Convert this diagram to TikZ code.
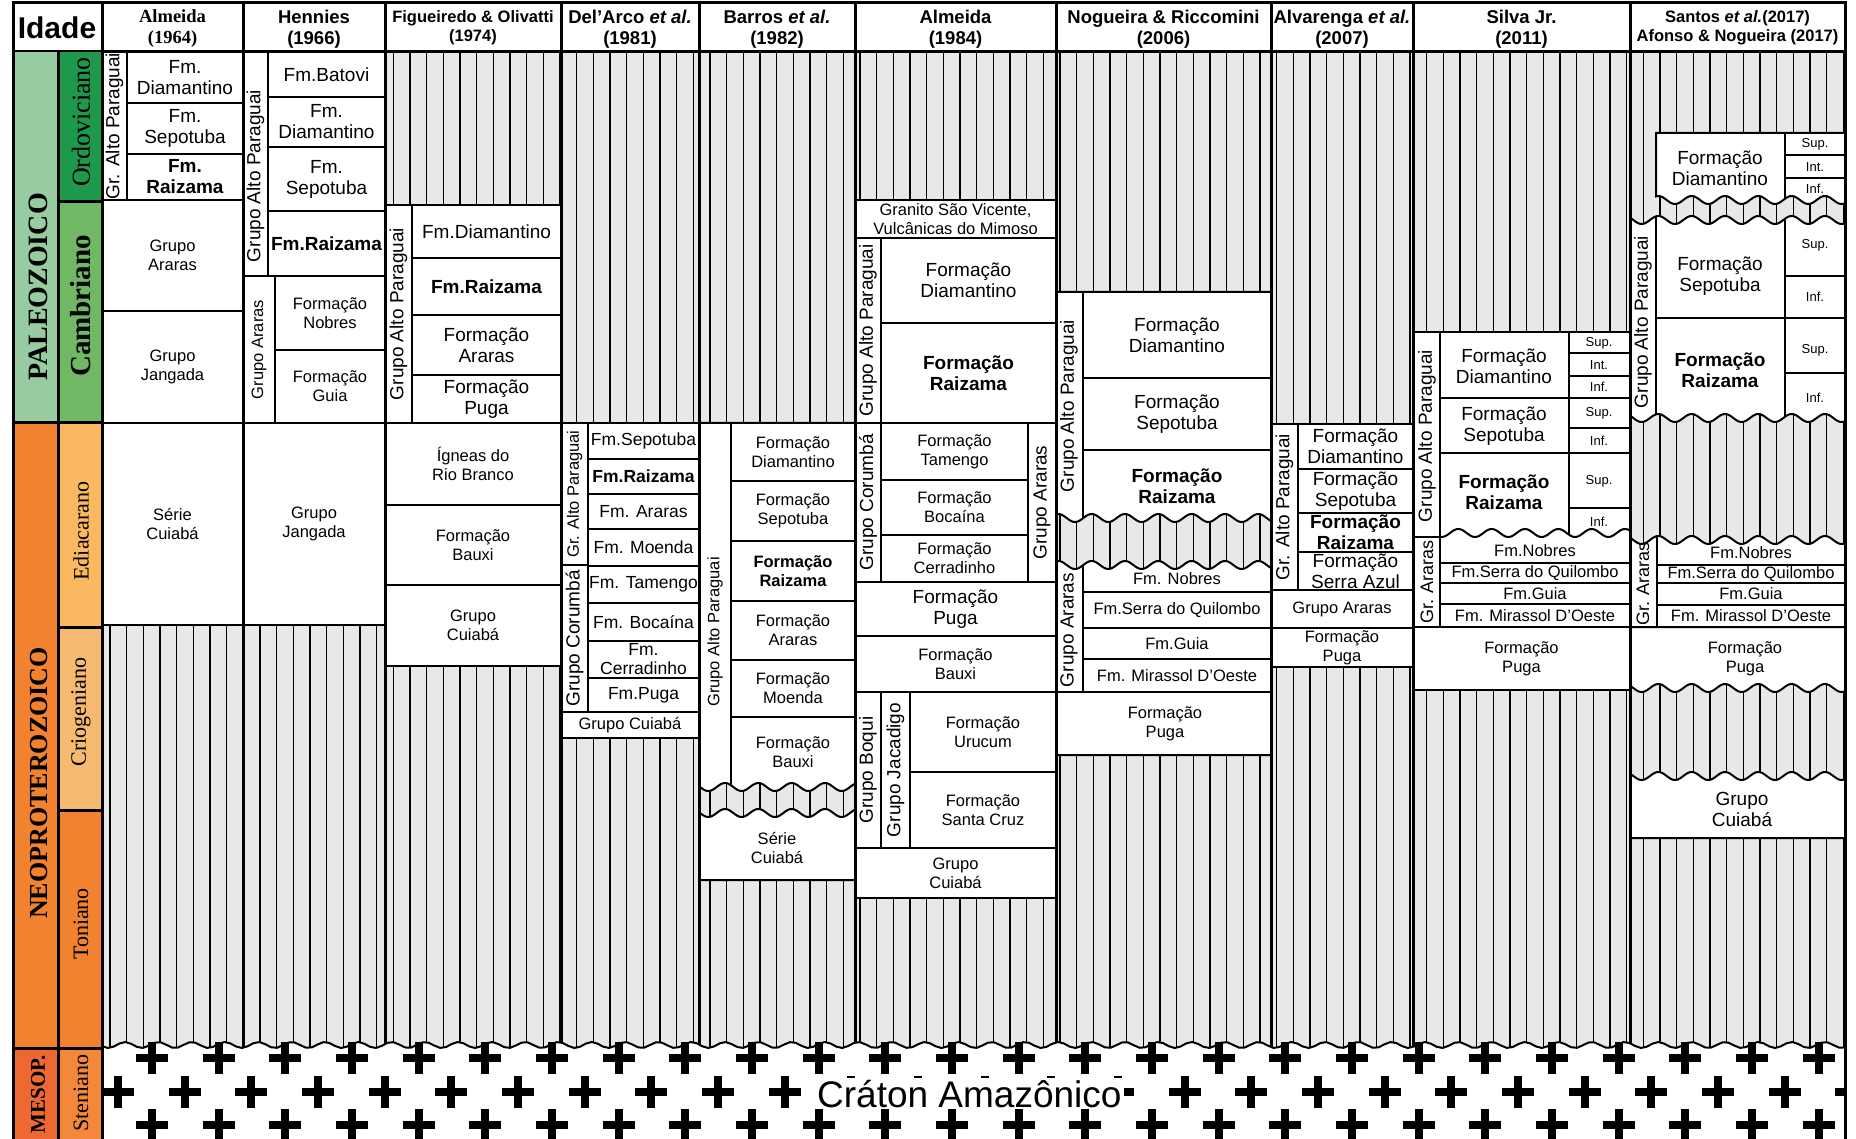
\documentclass[tikz,border=0pt]{standalone}
\usepackage{fontspec}
\setmainfont{Liberation Sans}
\newfontfamily\tms{Liberation Serif}
\definecolor{paleo}{RGB}{150,204,160}
\definecolor{ordo}{RGB}{30,152,74}
\definecolor{camb}{RGB}{112,184,100}
\definecolor{neop}{RGB}{241,130,47}
\definecolor{edia}{RGB}{250,184,96}
\definecolor{crio}{RGB}{245,186,112}
\definecolor{meso}{RGB}{238,104,50}
\definecolor{sten}{RGB}{243,136,58}
\definecolor{hatchbg}{RGB}{232,232,232}
\tikzset{box/.style={draw,line width=2pt,fill=white},ln/.style={line width=2pt},sep/.style={line width=3pt},
 lbl/.style={align=center,inner sep=0pt,font=\fontsize{16.5}{19}\selectfont},
 fB/.style={font=\fontsize{16.5}{19}\selectfont},fBb/.style={font=\fontsize{16.5}{19}\selectfont\bfseries},
 fA/.style={font=\fontsize{19}{21}\selectfont},fAb/.style={font=\fontsize{19}{21}\selectfont\bfseries},
 fM/.style={font=\fontsize{17.5}{19}\selectfont},fMb/.style={font=\fontsize{17.5}{19}\selectfont\bfseries},
 fS/.style={font=\fontsize{13}{15}\selectfont},
 hd/.style={align=center,inner sep=0pt,font=\fontsize{18.5}{21}\selectfont\bfseries},
 hds/.style={hd,font=\fontsize{16.5}{19}\selectfont\bfseries},
 eon/.style={rotate=90,inner sep=0pt,font=\tms\bfseries},
 per/.style={rotate=90,inner sep=0pt,font=\tms\fontsize{22}{24}\selectfont}}
\newcommand{\wavey}[3]{#2+#3*sin(10.8*mod(#1,33.333))}
\newcommand{\unitbox}[7][]{\draw[box] (#2,#3) rectangle (#4,#5); \node[lbl,#1] (#6) at ({(#2+#4)/2},{(#3+#5)/2}) {#7};}
\newcommand{\unitrot}[7][fA]{\draw[box] (#2,#3) rectangle (#4,#5); \node[lbl,#1,rotate=90] (#6) at ({(#2+#4)/2},{(#3+#5)/2}) {#7};}
\newcommand{\unitlab}[5][]{\node[lbl,#1] (#4) at (#2,#3) {#5};}
\newcommand{\waveregion}[6]{\filldraw[box] plot[domain=#1:#3,samples=300] (\x,{\wavey{\x}{#2}{#5}}) -- plot[domain=#3:#1,samples=300] (\x,{\wavey{\x}{#4}{#6}}) -- cycle;}
\newcommand{\basecross}[2]{\draw[line width=8pt] ({#1-16},#2) -- ({#1+16},#2) ({#1},{#2-16}) -- ({#1},{#2+16});}
\begin{document}
\begin{tikzpicture}[x=1pt,y=-1pt]
\clip (0,0) rectangle (1856,1139);
\fill[white] (0,0) rectangle (1856,1139);
\fill[hatchbg] (102,52) rectangle (1845,1060);
\foreach \i in {0,...,104} {\draw[line width=1.2pt] ({110+16.667*\i},52) -- ({110+16.667*\i},1060);}
% Almeida (1964)
\unitrot{102}{52}{127}{200}{a64gap}{Gr. Alto Paraguai}
\unitbox[fA]{127}{52}{243}{103}{a64dia}{Fm.\\Diamantino}
\unitbox[fA]{127}{103}{243}{154}{a64sep}{Fm.\\Sepotuba}
\unitbox[fAb]{127}{154}{243}{200}{a64rai}{Fm.\\Raizama}
\unitbox{102}{200}{243}{311}{a64ara}{Grupo\\Araras}
\unitbox{102}{311}{243}{423}{a64jan}{Grupo\\Jangada}
\unitbox{102}{423}{243}{625}{a64cui}{Série\\Cuiabá}
% Hennies (1966)
\draw[box] (243,52) rectangle (268,276);
\unitlab[fA,rotate=90]{255.5}{176}{h66gap}{Grupo Alto Paraguai}
\unitbox[fA]{268}{52}{385}{97}{h66bat}{Fm.Batovi}
\unitbox[fA]{268}{97}{385}{147}{h66dia}{Fm.\\Diamantino}
\unitbox[fA]{268}{147}{385}{211}{h66sep}{Fm.\\Sepotuba}
\unitbox[fAb]{268}{211}{385}{276}{h66rai}{Fm.Raizama}
\unitrot[fB]{243}{276}{275}{423}{h66gar}{Grupo Araras}
\unitbox{275}{276}{385}{350}{h66nob}{Formação\\Nobres}
\unitbox{275}{350}{385}{423}{h66gui}{Formação\\Guia}
\unitbox{243}{423}{385}{625}{h66jan}{Grupo\\Jangada}
% Figueiredo & Olivatti (1974)
\unitrot{385}{205}{412}{423}{fo74gap}{Grupo Alto Paraguai}
\unitbox[fA]{412}{205}{561}{258}{fo74dia}{Fm.Diamantino}
\unitbox[fAb]{412}{258}{561}{315}{fo74rai}{Fm.Raizama}
\unitbox[fA]{412}{315}{561}{375}{fo74ara}{Formação\\Araras}
\unitbox[fA]{412}{375}{561}{423}{fo74pug}{Formação\\Puga}
\unitbox{385}{423}{561}{505}{fo74ign}{Ígneas do\\Rio Branco}
\unitbox{385}{505}{561}{585}{fo74bau}{Formação\\Bauxi}
\unitbox{385}{585}{561}{666}{fo74cui}{Grupo\\Cuiabá}
% Del'Arco et al. (1981)
\unitrot[fB]{561}{423}{588}{565}{da81gap}{Gr. Alto Paraguai}
\unitrot{561}{565}{588}{712}{da81gco}{Grupo Corumbá}
\unitbox[fM]{588}{423}{699}{459}{da81sep}{Fm.Sepotuba}
\unitbox[fMb]{588}{459}{699}{494}{da81rai}{Fm.Raizama}
\unitbox[fM]{588}{494}{699}{529}{da81ara}{Fm. Araras}
\unitbox[fM]{588}{529}{699}{566}{da81moe}{Fm. Moenda}
\unitbox[fM]{588}{566}{699}{603}{da81tam}{Fm. Tamengo}
\unitbox[fM]{588}{603}{699}{641}{da81boc}{Fm. Bocaína}
\unitbox[fM]{588}{641}{699}{678}{da81cer}{Fm.\\Cerradinho}
\unitbox[fM]{588}{678}{699}{712}{da81pug}{Fm.Puga}
\unitbox{561}{712}{699}{738}{da81cui}{Grupo Cuiabá}
% Barros et al. (1982)
\waveregion{699}{423}{855}{787}{0}{4}
\draw[ln] (731,423) -- (731,{\wavey{731}{787}{4}}) (731,481) -- (855,481) (731,541) -- (855,541) (731,601) -- (855,601) (731,660) -- (855,660) (731,717) -- (855,717);
\unitlab[rotate=90]{715}{632}{b82gap}{Grupo Alto Paraguai}
\unitlab{793}{452}{b82dia}{Formação\\Diamantino} \unitlab{793}{511}{b82sep}{Formação\\Sepotuba}
\unitlab[fBb]{793}{571}{b82rai}{Formação\\Raizama} \unitlab{793}{630}{b82ara}{Formação\\Araras}
\unitlab{793}{688}{b82moe}{Formação\\Moenda} \unitlab{793}{752}{b82bau}{Formação\\Bauxi}
\waveregion{699}{813}{855}{880}{4}{0}
\unitlab{777}{848}{b82cui}{Série\\Cuiabá}
% Almeida (1984)
\unitbox{855}{200}{1056}{238}{a84gra}{Granito São Vicente,\\Vulcânicas do Mimoso}
\unitrot{855}{238}{881}{423}{a84gap}{Grupo Alto Paraguai}
\unitbox[fA]{881}{238}{1056}{323}{a84dia}{Formação\\Diamantino}
\unitbox[fAb]{881}{323}{1056}{423}{a84rai}{Formação\\Raizama}
\unitrot{855}{423}{881}{582}{a84gco}{Grupo Corumbá}
\unitbox{881}{423}{1028}{480}{a84tam}{Formação\\Tamengo}
\unitbox{881}{480}{1028}{535}{a84boc}{Formação\\Bocaína}
\unitbox{881}{535}{1028}{582}{a84cer}{Formação\\Cerradinho}
\unitrot{1028}{423}{1056}{582}{a84gar}{Grupo Araras}
\unitbox[fA]{855}{582}{1056}{636}{a84pug}{Formação\\Puga}
\unitbox{855}{636}{1056}{692}{a84bau}{Formação\\Bauxi}
\unitrot{855}{692}{881}{848}{a84gbo}{Grupo Boqui}
\unitrot{881}{692}{910}{848}{a84gja}{Grupo Jacadigo}
\unitbox{910}{692}{1056}{772}{a84uru}{Formação\\Urucum}
\unitbox{910}{772}{1056}{848}{a84san}{Formação\\Santa Cruz}
\unitbox{855}{848}{1056}{898}{a84cui}{Grupo\\Cuiabá}
% Nogueira & Riccomini (2006)
\waveregion{1056}{292}{1271}{518}{0}{4}
\draw[ln] (1083,292) -- (1083,{\wavey{1083}{518}{4}}) (1083,378) -- (1271,378) (1083,450) -- (1271,450);
\unitlab[fA,rotate=90]{1069}{406}{nr06gap}{Grupo Alto Paraguai}
\unitlab[fA]{1177}{335}{nr06dia}{Formação\\Diamantino} \unitlab[fA]{1177}{414}{nr06sep}{Formação\\Sepotuba}
\unitlab[fAb]{1177}{486}{nr06rai}{Formação\\Raizama}
\waveregion{1056}{565}{1271}{755}{4}{0}
\draw[ln] (1083,{\wavey{1083}{565}{4}}) -- (1083,692) (1083,592) -- (1271,592) (1083,628) -- (1271,628) (1083,659) -- (1271,659) (1056,692) -- (1271,692);
\unitlab[fA,rotate=90]{1069}{630}{nr06gar}{Grupo Araras}
\unitlab{1177}{579}{nr06nob}{Fm. Nobres} \unitlab{1177}{610}{nr06sqm}{Fm.Serra do Quilombo}
\unitlab{1177}{644}{nr06gui}{Fm.Guia} \unitlab{1177}{676}{nr06mir}{Fm. Mirassol D’Oeste}
\unitlab{1165}{724}{nr06pug}{Formação\\Puga}
% Alvarenga et al. (2007)
\unitrot{1271}{424}{1298}{590}{al07gap}{Gr. Alto Paraguai}
\unitbox[fA]{1298}{424}{1413}{469}{al07dia}{Formação\\Diamantino}
\unitbox[fA]{1298}{469}{1413}{513}{al07sep}{Formação\\Sepotuba}
\unitbox[fAb]{1298}{513}{1413}{552}{al07rai}{Formação\\Raizama}
\unitbox[fA]{1298}{552}{1413}{590}{al07saz}{Formação\\Serra Azul}
\unitbox{1271}{590}{1413}{628}{al07gar}{Grupo Araras}
\unitbox{1271}{628}{1413}{667}{al07pug}{Formação\\Puga}
% Silva Jr. (2011)
\draw[box] (1413,332) rectangle (1630,627);
\draw[ln] (1440,332) -- (1440,627) (1569,332) -- (1569,{\wavey{1569}{533}{4}}) (1440,398) -- (1630,398) (1440,453) -- (1630,453)
 (1569,353) -- (1630,353) (1569,376) -- (1630,376) (1569,428) -- (1630,428) (1569,508) -- (1630,508) (1413,537) -- (1440,537)
 (1440,563) -- (1630,563) (1440,583) -- (1630,583) (1440,604) -- (1630,604);
\draw[ln] plot[domain=1440:1630,samples=200] (\x,{\wavey{\x}{533}{4}});
\unitlab[fA,rotate=90]{1427}{436}{s11gap}{Grupo Alto Paraguai}
\unitlab[fA]{1504}{366}{s11dia}{Formação\\Diamantino} \unitlab[fA]{1504}{426}{s11sep}{Formação\\Sepotuba}
\unitlab[fAb]{1504}{492}{s11rai}{Formação\\Raizama}
\unitlab[fS]{1599}{343}{s11ds}{Sup.} \unitlab[fS]{1599}{365}{s11dm}{Int.} \unitlab[fS]{1599}{387}{s11di}{Inf.}
\unitlab[fS]{1599}{413}{s11ss}{Sup.} \unitlab[fS]{1599}{441}{s11si}{Inf.}
\unitlab[fS]{1599}{481}{s11rs}{Sup.} \unitlab[fS]{1599}{522}{s11ri}{Inf.}
\unitlab[font=\fontsize{18}{20}\selectfont,rotate=90]{1427}{582}{s11gar}{Gr. Araras}
\unitlab{1535}{551}{s11nob}{Fm.Nobres} \unitlab{1535}{573}{s11sqm}{Fm.Serra do Quilombo}
\unitlab{1535}{594}{s11gui}{Fm.Guia} \unitlab{1535}{616}{s11mir}{Fm. Mirassol D’Oeste}
\unitbox{1413}{627}{1630}{690}{s11pug}{Formação\\Puga}
% Santos et al. (2017), Afonso & Nogueira (2017)
\waveregion{1656}{133}{1845}{200}{0}{4}
\draw[ln] (1785,133) -- (1785,{\wavey{1785}{200}{4}}) (1785,155) -- (1845,155) (1785,178) -- (1845,178);
\unitlab[fA]{1720}{168}{sa17dia}{Formação\\Diamantino}
\unitlab[fS]{1815}{144}{sa17ds}{Sup.} \unitlab[fS]{1815}{167}{sa17dm}{Int.} \unitlab[fS]{1815}{189}{sa17di}{Inf.}
\waveregion{1630}{220}{1845}{418}{4}{4}
\draw[ln] (1656,{\wavey{1656}{220}{4}}) -- (1656,{\wavey{1656}{418}{4}}) (1785,{\wavey{1785}{220}{4}}) -- (1785,{\wavey{1785}{418}{4}})
 (1656,318) -- (1845,318) (1785,276) -- (1845,276) (1785,373) -- (1845,373);
\unitlab[fA,rotate=90]{1643}{322}{sa17gap}{Grupo Alto Paraguai}
\unitlab[fA]{1720}{276}{sa17sep}{Formação\\Sepotuba} \unitlab[fAb]{1720}{370}{sa17rai}{Formação\\Raizama}
\unitlab[fS]{1815}{245}{sa17ss}{Sup.} \unitlab[fS]{1815}{297}{sa17si}{Inf.}
\unitlab[fS]{1815}{350}{sa17rs}{Sup.} \unitlab[fS]{1815}{398}{sa17ri}{Inf.}
\waveregion{1630}{540}{1845}{627}{4}{0}
\draw[ln] (1657,{\wavey{1657}{540}{4}}) -- (1657,627) (1657,565) -- (1845,565) (1657,583) -- (1845,583) (1657,605) -- (1845,605);
\unitlab[font=\fontsize{18}{20}\selectfont,rotate=90]{1643}{584}{sa17gar}{Gr. Araras}
\unitlab{1751}{553}{sa17nob}{Fm.Nobres} \unitlab{1751}{574}{sa17sqm}{Fm.Serra do Quilombo}
\unitlab{1751}{594}{sa17gui}{Fm.Guia} \unitlab{1751}{616}{sa17mir}{Fm. Mirassol D’Oeste}
\waveregion{1630}{627}{1845}{688}{0}{4}
\unitlab{1745}{659}{sa17pug}{Formação\\Puga}
\waveregion{1630}{776}{1845}{838}{4}{0}
\unitlab[fA]{1742}{809}{sa17cui}{Grupo\\Cuiabá}
% header and column walls
\draw[sep,fill=white] (13,3) rectangle (1845,52);
\node[inner sep=0pt,font=\fontsize{30}{32}\selectfont\bfseries] (idade) at (57,28) {Idade};
\node[hd,font=\tms\fontsize{18.5}{21}\selectfont\bfseries] (h64) at (172.5,29) {Almeida\\(1964)};
\node[hd] (h66) at (314,29) {Hennies\\(1966)};
\node[hds] (h74) at (473,28) {Figueiredo \& Olivatti\\(1974)};
\node[hd] (h81) at (630,29) {Del’Arco \textit{et al.}\\(1981)};
\node[hd] (h82) at (777,29) {Barros \textit{et al.}\\(1982)};
\node[hd] (h84) at (955.5,29) {Almeida\\(1984)};
\node[hd] (h06) at (1163.5,29) {Nogueira \& Riccomini\\(2006)};
\node[hd] (h07) at (1342,29) {Alvarenga \textit{et al.}\\(2007)};
\node[hd] (h11) at (1521.5,29) {Silva Jr.\\(2011)};
\node[hds] (h17) at (1737.5,28) {Santos \textit{et al.}(2017)\\Afonso \& Nogueira (2017)};
\foreach \c in {243,385,561,699,855,1056,1271,1413,1630} {\draw[sep] (\c,3) -- (\c,1050);}
% Craton Amazonico
\waveregion{102}{1045}{1845}{1160}{3}{0}
\begin{scope}
\clip (102,1041) rectangle (1845,1139);
\foreach \i in {0,...,25} {\basecross{152+66.667*\i}{1058} \basecross{152+66.667*\i}{1125}}
\foreach \i in {0,...,26} {\basecross{118+66.667*\i}{1092}}
\end{scope}
\node[fill=white,inner sep=2pt,anchor=base west,font=\fontsize{37}{40}\selectfont] (craton) at (815,1107) {Cráton Amazônico};
% time scale
\fill[paleo] (13,52) rectangle (58,423); \fill[ordo] (58,52) rectangle (102,202); \fill[camb] (58,202) rectangle (102,423);
\fill[neop] (13,423) rectangle (58,1048); \fill[edia] (58,423) rectangle (102,627); \fill[crio] (58,627) rectangle (102,810); \fill[neop] (58,810) rectangle (102,1048);
\fill[meso] (13,1048) rectangle (58,1139); \fill[sten] (58,1048) rectangle (102,1139);
\draw[sep] (13,3) -- (13,1139) (58,52) -- (58,1139) (102,3) -- (102,1139) (1845,3) -- (1845,1139) (13,423) -- (102,423) (13,1048) -- (102,1048)
 (58,202) -- (102,202) (58,627) -- (102,627) (58,810) -- (102,810);
\node[eon] (paleo) at (38,287) {\fontsize{28}{30}\selectfont PALEOZOICO};
\node[eon] (neopro) at (39,783) {\fontsize{26}{28}\selectfont NEOPROTEROZOICO};
\node[eon] (mesop) at (38,1094) {\fontsize{21}{23}\selectfont MESOP.};
\node[per] (ordov) at (81,122) {\fontsize{26}{28}\selectfont Ordoviciano};
\node[per,font=\tms\bfseries] (cambr) at (81,306) {\fontsize{29}{31}\selectfont Cambriano};
\node[per] (ediac) at (81,531) {Ediacarano};
\node[per] (criog) at (81,712) {Criogeniano};
\node[per] (tonia) at (81,924) {Toniano};
\node[per] (steni) at (81,1093) {Steniano};
\end{tikzpicture}
\end{document}
